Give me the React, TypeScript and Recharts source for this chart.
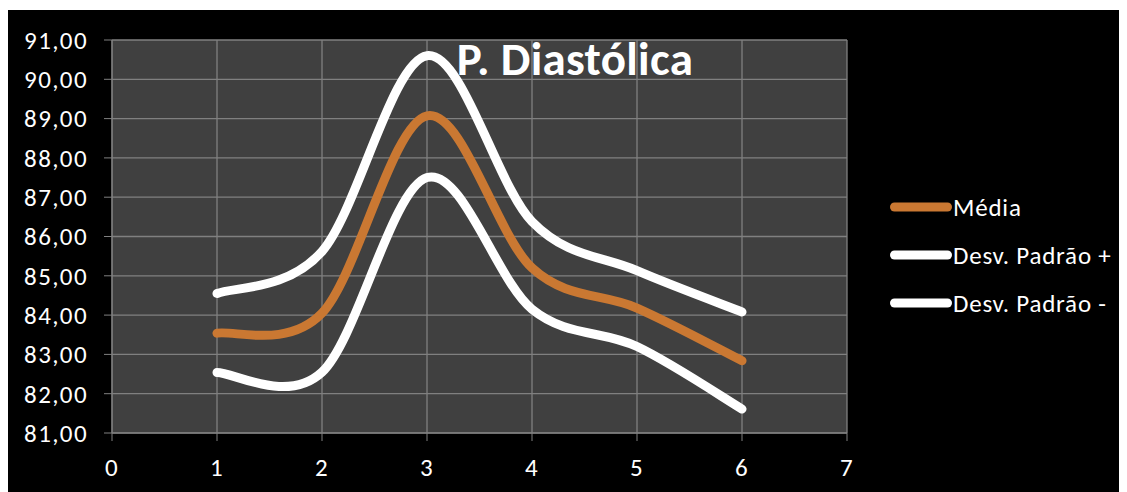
import React from "react";
import { LineChart, Line, XAxis, YAxis, CartesianGrid, Legend } from "recharts";

const xValues = [1, 2, 3, 4, 5, 6];
const media = [83.54, 84.05, 89.07, 85.2, 84.18, 82.84];
const desvMais = [84.55, 85.62, 90.6, 86.38, 85.13, 84.08];
const desvMenos = [82.54, 82.55, 87.5, 84.15, 83.2, 81.61];
const xTicks = [0, 1, 2, 3, 4, 5, 6, 7];
const yTicks = [81, 82, 83, 84, 85, 86, 87, 88, 89, 90, 91];
const seriesNames = ["Média", "Desv. Padrão +", "Desv. Padrão -"];

const data = xValues.map((x, i) => ({
  x,
  media: media[i],
  mais: desvMais[i],
  menos: desvMenos[i],
}));

const FONT = "Calibri, Carlito, Lato, sans-serif";
const ORANGE = "#CA7832";
const GRID = "#808080";

// Catmull-Rom style smoothing (spreadsheet "smoothed line")
const smoothCurve = (context: any) => {
  let pts: number[][] = [];
  return {
    areaStart() {},
    areaEnd() {},
    lineStart() {
      pts = [];
    },
    point(x: number, y: number) {
      pts.push([+x, +y]);
    },
    lineEnd() {
      if (!pts.length) return;
      context.moveTo(pts[0][0], pts[0][1]);
      for (let i = 0; i < pts.length - 1; i++) {
        const p0 = pts[i - 1] || pts[i];
        const p1 = pts[i];
        const p2 = pts[i + 1];
        const p3 = pts[i + 2] || p2;
        context.bezierCurveTo(
          p1[0] + (p2[0] - p0[0]) / 6,
          p1[1] + (p2[1] - p0[1]) / 6,
          p2[0] - (p3[0] - p1[0]) / 6,
          p2[1] - (p3[1] - p1[1]) / 6,
          p2[0],
          p2[1]
        );
      }
    },
  };
};

const fmt = (v: number) => v.toFixed(2).replace(".", ",");

const renderLegend = (props: any) => {
  const items = [...(props.payload || [])].sort(
    (a: any, b: any) => seriesNames.indexOf(a.value) - seriesNames.indexOf(b.value)
  );
  return (
    <div style={{ fontFamily: FONT }}>
      {items.map((entry: any) => (
        <div
          key={entry.value}
          style={{ height: 48, display: "flex", alignItems: "center" }}
        >
          <svg width={62} height={12} style={{ display: "block", flex: "none" }}>
            <line
              x1={4.5}
              y1={6}
              x2={57.5}
              y2={6}
              stroke={entry.color}
              strokeWidth={9}
              strokeLinecap="round"
            />
          </svg>
          <span
            style={{
              color: "#fff",
              fontSize: 25,
              letterSpacing: 0.8,
              marginLeft: 1,
              whiteSpace: "nowrap",
            }}
          >
            {entry.value}
          </span>
        </div>
      ))}
    </div>
  );
};

const tickStyle = {
  fill: "#fff",
  fontSize: 25,
  fontFamily: FONT,
  letterSpacing: 1.4,
};

export default function App() {
  return (
    <div
      style={{
        position: "relative",
        width: 1119,
        height: 482,
        marginTop: 2,
        background: "#000",
      }}
    >
      <LineChart
        width={1119}
        height={482}
        data={data}
        margin={{ top: 30, right: 280, bottom: 29, left: 0 }}
      >
        <CartesianGrid
          fill="#404040"
          stroke={GRID}
          strokeWidth={1.3}
          verticalValues={xTicks}
          horizontalValues={yTicks}
        />
        <XAxis
          dataKey="x"
          type="number"
          domain={[0, 7]}
          ticks={xTicks}
          height={30}
          stroke={GRID}
          tickSize={8}
          tickMargin={17}
          tick={tickStyle}
        />
        <YAxis
          type="number"
          domain={[81, 91]}
          ticks={yTicks}
          width={104}
          stroke={GRID}
          tickSize={8}
          tickMargin={16}
          tickFormatter={fmt}
          tick={tickStyle}
        />
        <Legend
          content={renderLegend}
          layout="vertical"
          align="center"
          verticalAlign="middle"
          wrapperStyle={{ position: "absolute", left: 882, top: 173, width: 235 }}
        />
        <Line
          dataKey="media"
          name={seriesNames[0]}
          type={smoothCurve as any}
          stroke={ORANGE}
          strokeWidth={9}
          strokeLinecap="round"
          dot={false}
          activeDot={false}
          isAnimationActive={false}
        />
        <Line
          dataKey="mais"
          name={seriesNames[1]}
          type={smoothCurve as any}
          stroke="#fff"
          strokeWidth={9}
          strokeLinecap="round"
          dot={false}
          activeDot={false}
          isAnimationActive={false}
        />
        <Line
          dataKey="menos"
          name={seriesNames[2]}
          type={smoothCurve as any}
          stroke="#fff"
          strokeWidth={9}
          strokeLinecap="round"
          dot={false}
          activeDot={false}
          isAnimationActive={false}
        />
      </LineChart>
      <svg
        width={1119}
        height={482}
        style={{ position: "absolute", left: 0, top: 0, pointerEvents: "none" }}
      >
        <text
          x={567}
          y={65}
          textAnchor="middle"
          fill="#fff"
          fontFamily={FONT}
          fontWeight="bold"
          fontSize={47}
          letterSpacing={0.3}
        >
          P. Diastólica
        </text>
      </svg>
    </div>
  );
}
